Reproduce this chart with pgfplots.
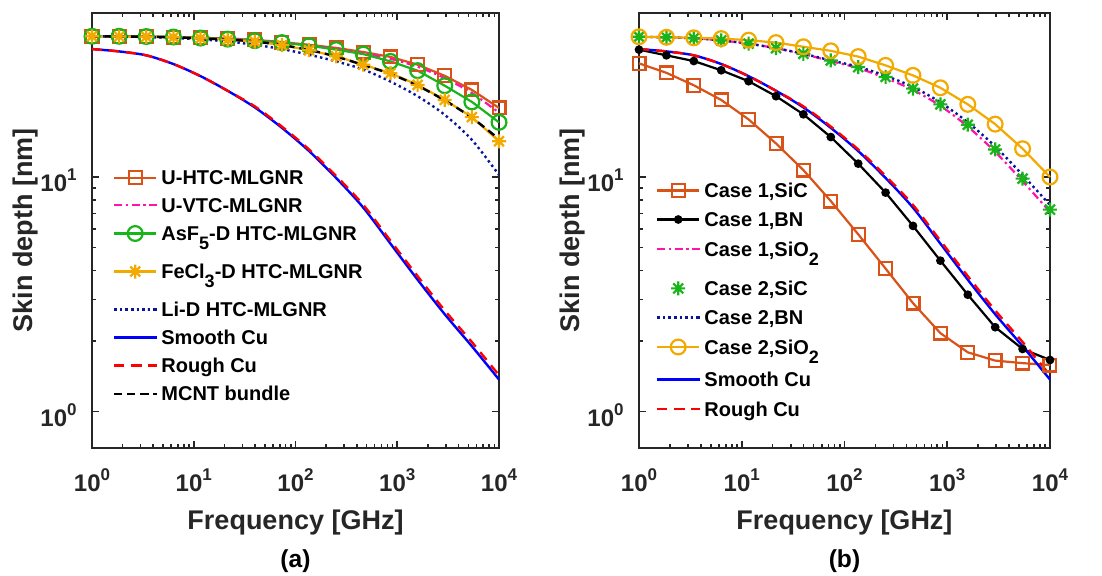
\documentclass[border=0pt]{standalone}
\usepackage{pgfplots}
\pgfplotsset{compat=1.18}
\usepackage{fontspec}
\setmainfont{Liberation Sans}
\definecolor{axgray}{RGB}{38,38,38}
\definecolor{morange}{RGB}{217,83,25}
\definecolor{mpink}{RGB}{255,20,170}
\definecolor{mgreen}{RGB}{25,180,25}
\definecolor{myellow}{RGB}{242,169,0}
\definecolor{mnavy}{RGB}{10,20,150}
\pgfdeclareplotmark{mstar}{%
 \pgfpathmoveto{\pgfqpoint{0pt}{\pgfplotmarksize}}\pgfpathlineto{\pgfqpoint{0pt}{-\pgfplotmarksize}}%
 \pgfpathmoveto{\pgfqpoint{\pgfplotmarksize}{0pt}}\pgfpathlineto{\pgfqpoint{-\pgfplotmarksize}{0pt}}%
 \pgfpathmoveto{\pgfqpoint{.707\pgfplotmarksize}{.707\pgfplotmarksize}}\pgfpathlineto{\pgfqpoint{-.707\pgfplotmarksize}{-.707\pgfplotmarksize}}%
 \pgfpathmoveto{\pgfqpoint{.707\pgfplotmarksize}{-.707\pgfplotmarksize}}\pgfpathlineto{\pgfqpoint{-.707\pgfplotmarksize}{.707\pgfplotmarksize}}%
 \pgfusepathqstroke}
\newcommand{\msub}[1]{\raisebox{-4.5pt}{\fontsize{9}{9}\selectfont\bfseries #1}}
\newcommand{\lstr}{\rule[-1pt]{0pt}{8pt}}
\newcommand{\lstrb}{\rule[-1pt]{0pt}{13.2pt}}
\newcommand{\lstrc}{\rule[-1pt]{0pt}{9.8pt}}
\newcommand{\tlab}[1]{10\raisebox{5.5pt}{\fontsize{8.5}{8.5}\selectfont\bfseries #1}}
\begin{document}
\begin{tikzpicture}
\useasboundingbox (0,0) rectangle (551pt,288pt);
% ---------------- (a) ----------------
\begin{axis}[scale only axis, width=203.5pt, height=217.5pt, at={(46pt,64pt)}, anchor=south west,
    xmode=log, ymode=log, xmin=1, xmax=10000, ymin=0.7, ymax=50,
    xtick={1,10,100,1000,10000},
    xticklabels={\tlab{0},\tlab{1},\tlab{2},\tlab{3},\tlab{4}},
    ytick={1,10}, yticklabels={\tlab{0},\tlab{1}},
    tick align=inside, xtick pos=both, ytick pos=both,
    major tick length=3.5pt, minor tick length=2pt,
    every tick/.append style={axgray, line width=0.8pt},
    axis line style={axgray, line width=1pt},
    tick label style={font=\fontsize{12}{12}\selectfont\bfseries, text=axgray, inner sep=0pt},
    xticklabel style={anchor=base, yshift=-21.8pt},
    yticklabel style={anchor=base east, xshift=-7.5pt, yshift=-7.5pt},
    label style={font=\fontsize{13.5}{13.5}\selectfont\bfseries, text=axgray, inner sep=0pt},
    xlabel={Frequency [GHz]},
    ylabel={Skin depth [nm]},
    xlabel style={at={(axis description cs:0.5,-0.1885)}, anchor=base},
    ylabel style={at={(axis description cs:-0.145,0.5)}, anchor=base},
    clip=false,
    legend style={draw=none, fill=none, inner sep=0pt, outer sep=0pt,
      font=\fontsize{10}{12}\selectfont\bfseries, row sep=5.3pt, column sep=2pt,
      nodes={inner sep=0pt, outer sep=0pt},
      cells={anchor=base west}, anchor=north west, at={(axis description cs:0.0516,0.637)}},
    legend image code/.code={\draw[mark repeat=2,mark phase=2,#1] plot coordinates {(0pt,3.6pt) (10.5pt,3.6pt) (21pt,3.6pt)};}]
\addplot[morange, line width=1.1pt, mark=square, mark size=3.2pt, mark options={solid}] coordinates {
(1,39.8) (1.8478,39.8) (3.4145,39.7) (6.3096,39.5) (11.659,39.2) (21.544,38.9) (39.811,38.4) (73.564,37.6)
(135.94,36.6) (251.19,35.5) (464.16,34.1) (857.70,32.5) (1584.9,30.1) (2928.6,27.0) (5411.7,23.5) (10000,19.7)};
\addlegendentry{\lstr U-HTC-MLGNR}
\addplot[mpink, line width=1.1pt, dash pattern=on 4pt off 1.8pt on 1.2pt off 1.8pt, smooth] coordinates {
(1,39.8) (1.8478,39.8) (3.4145,39.7) (6.3096,39.5) (11.659,39.2) (21.544,38.9) (39.811,38.4) (73.564,37.5)
(135.94,36.4) (251.19,35.2) (464.16,33.7) (857.70,31.9) (1584.9,29.5) (2928.6,26.4) (5411.7,22.8) (10000,18.8)};
\addlegendentry{\lstr U-VTC-MLGNR}
\addplot[mgreen, line width=1.1pt, mark=o, mark size=3.7pt, mark options={solid}] coordinates {
(1,39.8) (1.8478,39.8) (3.4145,39.7) (6.3096,39.5) (11.659,39.1) (21.544,38.7) (39.811,38.1) (73.564,37.4)
(135.94,36.3) (251.19,34.9) (464.16,33.4) (857.70,31.1) (1584.9,28.4) (2928.6,24.5) (5411.7,20.9) (10000,17.1)};
\addlegendentry{\lstr AsF\msub{5}-D HTC-MLGNR}
\addplot[myellow, line width=1.1pt, mark=mstar, mark size=3.5pt, mark options={solid}] coordinates {
(1,39.8) (1.8478,39.7) (3.4145,39.6) (6.3096,39.4) (11.659,39.0) (21.544,38.5) (39.811,37.8) (73.564,36.5)
(135.94,34.7) (251.19,32.7) (464.16,30.1) (857.70,27.7) (1584.9,24.7) (2928.6,21.3) (5411.7,18.0) (10000,14.2)};
\addlegendentry{\lstrb FeCl\msub{3}-D HTC-MLGNR}
\addplot[mnavy, line width=1.2pt, dash pattern=on 1.2pt off 1.6pt, smooth] coordinates {
(1,39.8) (1.8478,39.7) (3.4145,39.5) (6.3096,39.1) (11.659,38.6) (21.544,37.8) (39.811,36.6) (73.564,35.1)
(135.94,33.2) (251.19,31.1) (464.16,28.7) (857.70,25.5) (1584.9,22.1) (2928.6,18.4) (5411.7,14.4) (10000,10.2)};
\addlegendentry{\lstrb Li-D HTC-MLGNR}
\addplot[blue, line width=1.2pt, smooth] coordinates {
(1,35.1) (1.8478,34.3) (3.4145,33.0) (6.3096,30.3) (11.659,26.9) (21.544,23.3) (39.811,19.8) (73.564,16.2)
(135.94,12.9) (251.19,9.9) (464.16,7.4) (857.70,5.2) (1584.9,3.65) (2928.6,2.6) (5411.7,1.9) (10000,1.37)};
\addlegendentry{\lstr Smooth Cu}
\addplot[red, line width=1.2pt, dash pattern=on 5pt off 3.5pt, smooth] coordinates {
(1,35.1) (1.8478,34.3) (3.4145,33.0) (6.3096,30.3) (11.659,26.9) (21.544,23.3) (39.811,20.0) (73.564,16.4)
(135.94,13.1) (251.19,10.1) (464.16,7.6) (857.70,5.35) (1584.9,3.78) (2928.6,2.7) (5411.7,1.98) (10000,1.43)};
\addlegendentry{\lstr Rough Cu}
\addplot[black, line width=1.2pt, dash pattern=on 4pt off 2.5pt, smooth] coordinates {
(1,39.8) (1.8478,39.7) (3.4145,39.6) (6.3096,39.4) (11.659,39.0) (21.544,38.5) (39.811,37.8) (73.564,36.5)
(135.94,34.8) (251.19,32.6) (464.16,30.0) (857.70,27.5) (1584.9,24.5) (2928.6,21.2) (5411.7,17.9) (10000,14.5)};
\addlegendentry{\lstr MCNT bundle}
\node[font=\fontsize{12.3}{12.3}\selectfont\bfseries, anchor=base, inner sep=0pt] at (axis description cs:0.5,-0.2743) {(a)};
\end{axis}
% ---------------- (b) ----------------
\begin{axis}[scale only axis, width=205.5pt, height=217.5pt, at={(319.5pt,64pt)}, anchor=south west,
    xmode=log, ymode=log, xmin=1, xmax=10000, ymin=0.7, ymax=50,
    xtick={1,10,100,1000,10000},
    xticklabels={\tlab{0},\tlab{1},\tlab{2},\tlab{3},\tlab{4}},
    ytick={1,10}, yticklabels={\tlab{0},\tlab{1}},
    tick align=inside, xtick pos=both, ytick pos=both,
    major tick length=3.5pt, minor tick length=2pt,
    every tick/.append style={axgray, line width=0.8pt},
    axis line style={axgray, line width=1pt},
    tick label style={font=\fontsize{12}{12}\selectfont\bfseries, text=axgray, inner sep=0pt},
    xticklabel style={anchor=base, yshift=-21.8pt},
    yticklabel style={anchor=base east, xshift=-7.5pt, yshift=-7.5pt},
    label style={font=\fontsize{13.5}{13.5}\selectfont\bfseries, text=axgray, inner sep=0pt},
    xlabel={Frequency [GHz]},
    ylabel={Skin depth [nm]},
    xlabel style={at={(axis description cs:0.5,-0.1885)}, anchor=base},
    ylabel style={at={(axis description cs:-0.145,0.5)}, anchor=base},
    clip=false,
    legend style={draw=none, fill=none, inner sep=0pt, outer sep=0pt,
      font=\fontsize{10}{12}\selectfont\bfseries, row sep=6pt, column sep=2pt,
      nodes={inner sep=0pt, outer sep=0pt},
      cells={anchor=base west}, anchor=north west, at={(axis description cs:0.0414,0.6087)}},
    legend image code/.code={\draw[mark repeat=2,mark phase=2,#1] plot coordinates {(0pt,3.6pt) (10.5pt,3.6pt) (21pt,3.6pt)};}]
\addplot[morange, line width=1.1pt, mark=square, mark size=3.2pt, mark options={solid}] coordinates {
(1,30.5) (1.8478,27.8) (3.4145,24.6) (6.3096,21.3) (11.659,17.6) (21.544,13.9) (39.811,10.7) (73.564,7.9)
(135.94,5.70) (251.19,4.07) (464.16,2.90) (857.70,2.16) (1584.9,1.79) (2928.6,1.65) (5411.7,1.61) (10000,1.58)};
\addlegendentry{\lstr Case 1,SiC}
\addplot[black, line width=1.1pt, mark=*, mark size=1.6pt, mark options={solid}] coordinates {
(1,34.9) (1.8478,33.0) (3.4145,31.2) (6.3096,28.5) (11.659,25.6) (21.544,22.1) (39.811,18.5) (73.564,14.8)
(135.94,11.4) (251.19,8.58) (464.16,6.19) (857.70,4.40) (1584.9,3.15) (2928.6,2.29) (5411.7,1.85) (10000,1.66)};
\addlegendentry{\lstr Case 1,BN}
\addplot[mpink, line width=1.1pt, dash pattern=on 4pt off 1.8pt on 1.2pt off 1.8pt, smooth] coordinates {
(1,39.6) (1.8478,39.4) (3.4145,39.0) (6.3096,38.2) (11.659,37.0) (21.544,35.4) (39.811,33.4) (73.564,31.2)
(135.94,29.1) (251.19,26.4) (464.16,23.5) (857.70,20.1) (1584.9,16.4) (2928.6,12.8) (5411.7,9.6) (10000,7.1)};
\addlegendentry{\lstr Case 1,SiO\msub{2}}
\addplot[only marks, mgreen, line width=1.1pt, mark=mstar, mark size=3.5pt] coordinates {
(1,39.6) (1.8478,39.4) (3.4145,39.0) (6.3096,38.2) (11.659,37.0) (21.544,35.4) (39.811,33.5) (73.564,31.4)
(135.94,29.4) (251.19,26.7) (464.16,23.8) (857.70,20.4) (1584.9,16.7) (2928.6,13.1) (5411.7,9.84) (10000,7.26)};
\addlegendentry{\lstrb Case 2,SiC}
\addplot[mnavy, line width=1.2pt, dash pattern=on 1.2pt off 1.6pt, smooth] coordinates {
(1,39.6) (1.8478,39.4) (3.4145,39.0) (6.3096,38.2) (11.659,37.0) (21.544,35.4) (39.811,33.5) (73.564,31.4)
(135.94,29.5) (251.19,27.0) (464.16,24.2) (857.70,20.8) (1584.9,17.1) (2928.6,13.5) (5411.7,10.2) (10000,7.6)};
\addlegendentry{\lstr Case 2,BN}
\addplot[myellow, line width=1.1pt, mark=o, mark size=3.7pt, mark options={solid}] coordinates {
(1,39.6) (1.8478,39.4) (3.4145,39.2) (6.3096,38.9) (11.659,38.3) (21.544,37.4) (39.811,35.9) (73.564,34.5)
(135.94,32.6) (251.19,29.9) (464.16,27.1) (857.70,24.0) (1584.9,20.4) (2928.6,16.8) (5411.7,13.2) (10000,10.0)};
\addlegendentry{\lstr Case 2,SiO\msub{2}}
\addplot[blue, line width=1.2pt, smooth] coordinates {
(1,35.1) (1.8478,34.3) (3.4145,33.0) (6.3096,30.3) (11.659,26.9) (21.544,23.3) (39.811,19.8) (73.564,16.2)
(135.94,12.9) (251.19,9.9) (464.16,7.4) (857.70,5.2) (1584.9,3.65) (2928.6,2.6) (5411.7,1.9) (10000,1.37)};
\addlegendentry{\lstrc Smooth Cu}
\addplot[red, line width=1.2pt, dash pattern=on 5pt off 3.5pt, smooth] coordinates {
(1,35.1) (1.8478,34.3) (3.4145,33.0) (6.3096,30.3) (11.659,26.9) (21.544,23.3) (39.811,20.0) (73.564,16.4)
(135.94,13.1) (251.19,10.1) (464.16,7.6) (857.70,5.35) (1584.9,3.78) (2928.6,2.7) (5411.7,1.98) (10000,1.43)};
\addlegendentry{\lstr Rough Cu}
\node[font=\fontsize{12.3}{12.3}\selectfont\bfseries, anchor=base, inner sep=0pt] at (axis description cs:0.5,-0.2743) {(b)};
\end{axis}
\end{tikzpicture}
\end{document}
